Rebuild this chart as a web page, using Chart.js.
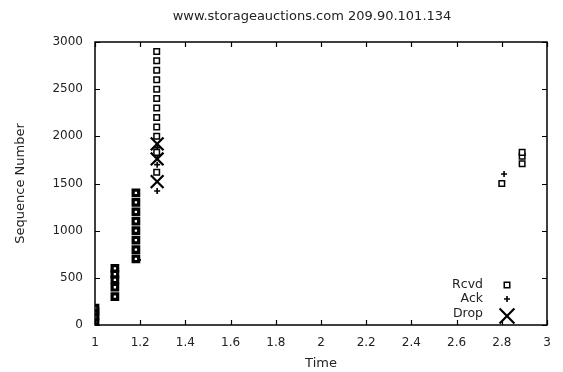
<!DOCTYPE html>
<html lang="en">
<head>
    <meta charset="UTF-8">
    <title>Sequence Number vs Time</title>
    <script src="https://cdn.jsdelivr.net/npm/chart.js"></script>
    <style>
        html, body { margin: 0; padding: 0; background: #fff; }
        #wrap { width: 563px; height: 372px; }
    </style>
</head>
<body>
    <div id="wrap"><canvas id="seqChart" width="563" height="372"></canvas></div>

    <script>
        // values
        const rcvdTime = [1.0, 1.0, 1.0, 1.0,
                          1.088, 1.088, 1.088, 1.088, 1.088,
                          1.181, 1.181, 1.181, 1.181, 1.181, 1.181, 1.181, 1.181,
                          1.273, 1.273, 1.273, 1.273, 1.273, 1.273, 1.273, 1.273, 1.273, 1.273, 1.273, 1.273,
                          2.80, 2.89, 2.89, 2.89];
        const rcvdSeq  = [30, 90, 140, 180,
                          300, 400, 480, 540, 600,
                          700, 800, 900, 1000, 1100, 1200, 1300, 1400,
                          1620, 1830, 2000, 2100, 2200, 2300, 2400, 2500, 2600, 2700, 2800, 2900,
                          1500, 1710, 1790, 1830];

        const ackTime = [1.19, 1.275, 1.275, 1.275, 1.275, 2.81];
        const ackSeq  = [690, 1420, 1700, 1800, 1880, 1600];

        const dropTime = [1.275, 1.275, 1.275];
        const dropSeq  = [1520, 1760, 1920];

        const yTicks = [0, 500, 1000, 1500, 2000, 2500, 3000];
        const xTicks = [1, 1.2, 1.4, 1.6, 1.8, 2, 2.2, 2.4, 2.6, 2.8, 3];

        const legendLabels = ['Rcvd', 'Ack', 'Drop'];

        function zip(xs, ys) {
            return xs.map((x, i) => ({ x: x, y: ys[i] }));
        }

        const FONT = '"DejaVu Sans", sans-serif';
        const TEXT = '#222';

        const rcvdStyle = { pointStyle: 'rect', radius: 3.9, borderWidth: 1.5, rotation: 0 };
        const ackStyle  = { pointStyle: 'cross', radius: 3, borderWidth: 1.6, rotation: 0 };
        const dropStyle = { pointStyle: 'crossRot', radius: 9, borderWidth: 2.2, rotation: 0 };

        // gnuplot-like frame, inward ticks, title and key
        const framePlugin = {
            id: 'frame',
            afterDraw(chart) {
                const ctx = chart.ctx;
                const a = chart.chartArea;
                const xs = chart.scales.x;
                const ys = chart.scales.y;
                ctx.save();
                ctx.strokeStyle = '#000';
                ctx.lineWidth = 1.5;
                ctx.strokeRect(a.left, a.top, a.right - a.left, a.bottom - a.top);

                ctx.lineWidth = 1.2;
                ctx.beginPath();
                xTicks.forEach(v => {
                    const px = Math.round(xs.getPixelForValue(v)) + 0.5;
                    ctx.moveTo(px, a.bottom); ctx.lineTo(px, a.bottom - 5);
                    ctx.moveTo(px, a.top); ctx.lineTo(px, a.top + 5);
                });
                yTicks.forEach(v => {
                    const py = Math.round(ys.getPixelForValue(v)) + 0.5;
                    ctx.moveTo(a.left, py); ctx.lineTo(a.left + 5, py);
                    ctx.moveTo(a.right, py); ctx.lineTo(a.right - 5, py);
                });
                ctx.stroke();

                // title
                ctx.fillStyle = TEXT;
                ctx.font = '13px ' + FONT;
                ctx.textAlign = 'center';
                ctx.textBaseline = 'middle';
                ctx.fillText('www.storageauctions.com 209.90.101.134', 312, 17);

                // key
                const styles = [rcvdStyle, ackStyle, dropStyle];
                const rows = [285, 299, 314];
                ctx.font = '12.5px ' + FONT;
                ctx.textAlign = 'right';
                legendLabels.forEach((lab, i) => {
                    ctx.fillStyle = TEXT;
                    ctx.fillText(lab, 483, rows[i]);
                    const st = Object.assign({}, styles[i]);
                    if (i === 2) st.radius = 10.5;
                    ctx.strokeStyle = '#000';
                    ctx.fillStyle = '#fff';
                    ctx.lineWidth = st.borderWidth;
                    Chart.helpers.drawPoint(ctx, st, 507, i === 2 ? rows[i] + 2 : rows[i]);
                });
                ctx.restore();
            }
        };

        const ctx = document.getElementById('seqChart').getContext('2d');
        new Chart(ctx, {
            type: 'scatter',
            data: {
                datasets: [
                    {
                        label: legendLabels[0],
                        data: zip(rcvdTime, rcvdSeq),
                        pointStyle: rcvdStyle.pointStyle,
                        pointRadius: rcvdStyle.radius,
                        // the early packets are drawn heavier in the original
                        pointBorderWidth: c => (c.raw && c.raw.x < 1.25 ? 3.2 : rcvdStyle.borderWidth),
                        borderColor: '#000',
                        backgroundColor: '#fff'
                    },
                    {
                        label: legendLabels[1],
                        data: zip(ackTime, ackSeq),
                        pointStyle: ackStyle.pointStyle,
                        pointRadius: ackStyle.radius,
                        pointBorderWidth: ackStyle.borderWidth,
                        borderColor: '#000',
                        backgroundColor: '#000'
                    },
                    {
                        label: legendLabels[2],
                        data: zip(dropTime, dropSeq),
                        pointStyle: dropStyle.pointStyle,
                        pointRadius: dropStyle.radius,
                        pointBorderWidth: dropStyle.borderWidth,
                        borderColor: '#000',
                        backgroundColor: '#000'
                    }
                ]
            },
            options: {
                responsive: false,
                animation: false,
                layout: { padding: { top: 42, right: 16, left: 0, bottom: 0 } },
                plugins: {
                    legend: { display: false },
                    tooltip: { enabled: false }
                },
                scales: {
                    x: {
                        type: 'linear',
                        min: 1,
                        max: 3,
                        afterFit: s => { s.height = 47; },
                        afterBuildTicks: s => { s.ticks = xTicks.map(v => ({ value: v })); },
                        grid: { display: false },
                        border: { display: false },
                        ticks: {
                            padding: 3,
                            color: TEXT,
                            font: { family: FONT, size: 12 },
                            maxRotation: 0,
                            callback: v => String(Number(v.toFixed(1)))
                        },
                        title: {
                            display: true,
                            text: 'Time',
                            color: TEXT,
                            font: { family: FONT, size: 13 },
                            padding: { top: 0, bottom: 1 }
                        }
                    },
                    y: {
                        min: 0,
                        max: 3000,
                        afterFit: s => { s.width = 95; },
                        afterBuildTicks: s => { s.ticks = yTicks.map(v => ({ value: v })); },
                        grid: { display: false },
                        border: { display: false },
                        ticks: {
                            padding: 4,
                            color: TEXT,
                            font: { family: FONT, size: 12 },
                            callback: v => String(v)
                        },
                        title: {
                            display: true,
                            text: 'Sequence Number',
                            color: TEXT,
                            font: { family: FONT, size: 13 },
                            padding: { top: 13, bottom: 0 }
                        }
                    }
                }
            },
            plugins: [framePlugin]
        });
    </script>
</body>
</html>
